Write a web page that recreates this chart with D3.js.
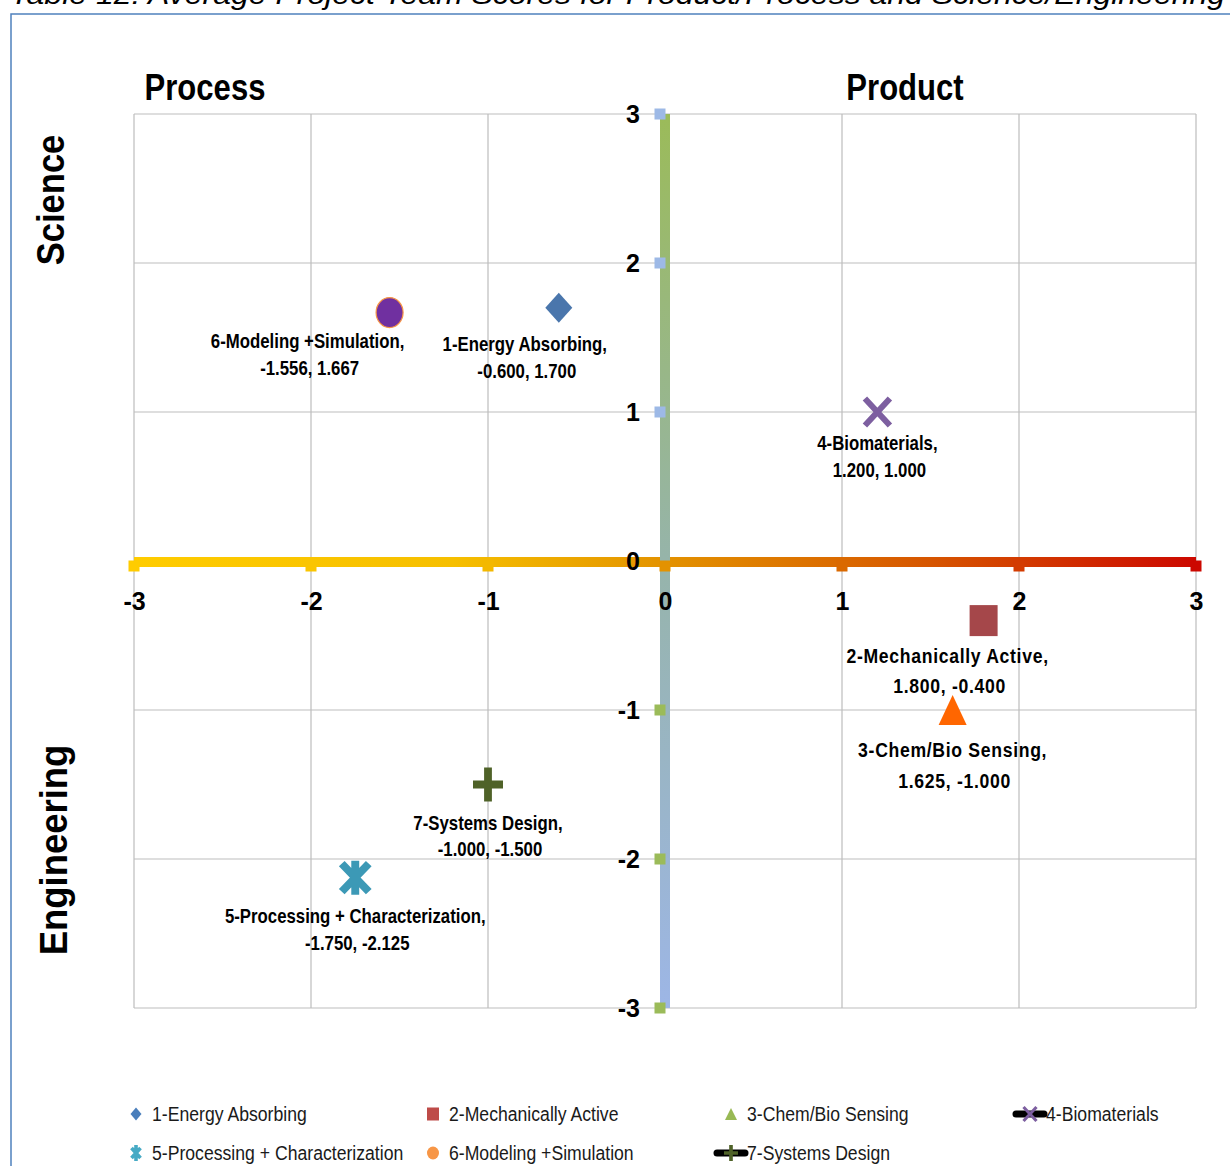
<!DOCTYPE html>
<html>
<head>
<meta charset="utf-8">
<script src="https://cdn.jsdelivr.net/npm/d3@7"></script>
<style>
    body { margin: 0; background: #ffffff; }
    svg { display: block; }
</style>
</head>
<body>
<svg id="chart" width="1230" height="1166"></svg>
<script>
// chart data
var teams = ["1-Energy Absorbing", "2-Mechanically Active", "3-Chem/Bio Sensing", "4-Biomaterials",
    "5-Processing + Characterization", "6-Modeling +Simulation", "7-Systems Design"];
var productScores = [-0.600, 1.800, 1.625, 1.200, -1.750, -1.556, -1.000]; // Process (-) / Product (+)
var scienceScores = [1.700, -0.400, -1.000, 1.000, -2.125, 1.667, -1.500]; // Engineering (-) / Science (+)
var axisTicks = [-3, -2, -1, 0, 1, 2, 3];

var titleText = "Table 12: Average Project Team Scores for Product/Process and Science/Engineering";
var quadrantHeaders = ["Process", "Product"];
var sideHeaders = ["Science", "Engineering"];

// styles
var sans = '"Liberation Sans", Arial, sans-serif';
var squeeze = 0.84; // no narrow font installed, so squeeze the text horizontally
var shapes = ["diamond", "square", "triangle", "x", "asterisk", "circle", "plus"];
var pointColors = ["#4A76AC", "#A5474A", "#FF6600", "#7D5FA0", "#3C99B6", "#7030A0", "#4F6228"];
var legendColors = ["#4A7EBB", "#BE4B48", "#98B954", "#7D5FA0", "#46AAC5", "#F79646", "#4F6228"];
var labelOffsets = [[-34, 36], [-36, 35], [0, 40], [0, 31], [0, 38], [-82, 28], [0, 38]];
var labelLineGap = [27, 30, 31, 27, 27, 27, 27];

var svg = d3.select("#chart");

var x = d3.scaleLinear().domain([-3, 3]).range([134, 1196]);
var y = d3.scaleLinear().domain([-3, 3]).range([1008, 114]);

var fmt = function (v) { return v.toFixed(3); };

/*====================================================================
       frame + title (title is cut at the top, as in the source)
    ==================================================================*/
svg.append("text")
    .attr("x", 10)
    .attr("y", 4)
    .attr("textLength", 1215)
    .attr("lengthAdjust", "spacingAndGlyphs")
    .attr("font-family", sans)
    .attr("font-style", "italic")
    .attr("font-size", 28)
    .attr("fill", "#000")
    .text(titleText);

svg.append("rect")
    .attr("x", 11)
    .attr("y", 14)
    .attr("width", 1300)
    .attr("height", 1300)
    .attr("fill", "none")
    .attr("stroke", "#4F81BD")
    .attr("stroke-width", 1.5);

/*====================================================================
       grid
    ==================================================================*/
var grid = svg.append("g");
grid.selectAll(".vgrid").data(axisTicks).enter().append("line")
    .attr("x1", function (d) { return x(d); })
    .attr("x2", function (d) { return x(d); })
    .attr("y1", y(3)).attr("y2", y(-3))
    .attr("stroke", "#BDBDBD").attr("stroke-width", 1.2);
grid.selectAll(".hgrid").data(axisTicks).enter().append("line")
    .attr("y1", function (d) { return y(d); })
    .attr("y2", function (d) { return y(d); })
    .attr("x1", x(-3)).attr("x2", x(3))
    .attr("stroke", "#BDBDBD").attr("stroke-width", 1.2);

/*====================================================================
       the two gradient axis lines
    ==================================================================*/
var defs = svg.append("defs");
var hStops = [[0, "#FFCC00"], [0.3, "#F6BF00"], [0.5, "#E39200"], [0.75, "#D65500"], [1, "#CC0800"]];
var vStops = [[0, "#9BBB59"], [0.5, "#96B4AA"], [1, "#9DB6E6"]];

var hGrad = defs.append("linearGradient").attr("id", "hgrad")
    .attr("gradientUnits", "userSpaceOnUse")
    .attr("x1", x(-3)).attr("x2", x(3)).attr("y1", 0).attr("y2", 0);
hGrad.selectAll("stop").data(hStops).enter().append("stop")
    .attr("offset", function (d) { return d[0]; })
    .attr("stop-color", function (d) { return d[1]; });

var vGrad = defs.append("linearGradient").attr("id", "vgrad")
    .attr("gradientUnits", "userSpaceOnUse")
    .attr("x1", 0).attr("x2", 0).attr("y1", y(3)).attr("y2", y(-3));
vGrad.selectAll("stop").data(vStops).enter().append("stop")
    .attr("offset", function (d) { return d[0]; })
    .attr("stop-color", function (d) { return d[1]; });

var hColor = d3.scaleLinear()
    .domain(hStops.map(function (d) { return -3 + d[0] * 6; }))
    .range(hStops.map(function (d) { return d[1]; }));

svg.append("line")
    .attr("x1", x(-3)).attr("x2", x(3))
    .attr("y1", y(0) + 1).attr("y2", y(0) + 1)
    .attr("stroke", "url(#hgrad)").attr("stroke-width", 10);

svg.append("line")
    .attr("x1", x(0)).attr("x2", x(0))
    .attr("y1", y(3)).attr("y2", y(-3))
    .attr("stroke", "url(#vgrad)").attr("stroke-width", 10);

svg.selectAll(".vmark").data(axisTicks.filter(function (d) { return d !== 0; })).enter().append("rect")
    .attr("x", x(0) - 5 - 5.5)
    .attr("y", function (d) { return y(d) - 5.5; })
    .attr("width", 11).attr("height", 11)
    .attr("fill", function (d) { return d > 0 ? "#9DB9E6" : "#9BBB59"; });

svg.selectAll(".hmark").data(axisTicks).enter().append("rect")
    .attr("x", function (d) { return x(d) - 5.5; })
    .attr("y", y(0) + 5 - 5.5)
    .attr("width", 11).attr("height", 11)
    .attr("fill", function (d) { return hColor(d); });

/*====================================================================
       axes (labels only)
    ==================================================================*/
var xAxis = svg.append("g")
    .attr("transform", "translate(0," + y(0) + ")")
    .call(d3.axisBottom(x).tickValues(axisTicks).tickSize(0).tickPadding(31)
        .tickFormat(function (d) { return String(d); }));
var yAxis = svg.append("g")
    .attr("transform", "translate(" + x(0) + ",0)")
    .call(d3.axisLeft(y).tickValues(axisTicks).tickSize(0).tickPadding(25)
        .tickFormat(function (d) { return String(d); }));

[xAxis, yAxis].forEach(function (ax) {
    ax.select(".domain").remove();
    ax.selectAll("text")
        .attr("font-family", sans)
        .attr("font-weight", "bold")
        .attr("font-size", 25)
        .attr("fill", "#000");
});

/*====================================================================
       headers
    ==================================================================*/
svg.selectAll(".qhead").data(quadrantHeaders).enter().append("text")
    .attr("transform", function (d, i) {
        return "translate(" + (i === 0 ? 205 : 905) + ",100) scale(" + squeeze + ",1)";
    })
    .attr("text-anchor", "middle")
    .attr("font-family", sans).attr("font-weight", "bold").attr("font-size", 37)
    .text(function (d) { return d; });

svg.selectAll(".shead").data(sideHeaders).enter().append("text")
    .attr("transform", function (d, i) {
        return (i === 0 ? "translate(64,200)" : "translate(67,850)") + " rotate(-90) scale(" + (i === 0 ? 0.91 : 0.96) + ",1)";
    })
    .attr("text-anchor", "middle")
    .attr("font-family", sans).attr("font-weight", "bold").attr("font-size", 38)
    .text(function (d) { return d; });

/*====================================================================
       markers
    ==================================================================*/
function drawMarker(g, shape, color, w, h, outline) {
    if (shape === "diamond") {
        g.append("path").attr("d", "M0," + (-h / 2) + "L" + (w / 2) + ",0L0," + (h / 2) + "L" + (-w / 2) + ",0Z")
            .attr("fill", color);
    } else if (shape === "square") {
        g.append("rect").attr("x", -w / 2).attr("y", -h / 2).attr("width", w).attr("height", h)
            .attr("fill", color);
    } else if (shape === "triangle") {
        g.append("path").attr("d", "M0," + (-h / 2) + "L" + (w / 2) + "," + (h / 2) + "L" + (-w / 2) + "," + (h / 2) + "Z")
            .attr("fill", color);
    } else if (shape === "circle") {
        g.append("ellipse").attr("rx", w / 2).attr("ry", h / 2)
            .attr("fill", color)
            .attr("stroke", outline ? "#F79646" : "none").attr("stroke-width", 1.2);
    } else if (shape === "x") {
        var p = d3.path();
        p.moveTo(-w / 2, -h / 2); p.lineTo(w / 2, h / 2);
        p.moveTo(w / 2, -h / 2); p.lineTo(-w / 2, h / 2);
        g.append("path").attr("d", p.toString()).attr("stroke", color).attr("stroke-width", w * 0.24);
    } else if (shape === "asterisk") {
        var q = d3.path();
        q.moveTo(-w / 2 + 3, -h / 2 + 3); q.lineTo(w / 2 - 3, h / 2 - 3);
        q.moveTo(w / 2 - 3, -h / 2 + 3); q.lineTo(-w / 2 + 3, h / 2 - 3);
        q.moveTo(0, -h / 2); q.lineTo(0, h / 2);
        g.append("path").attr("d", q.toString()).attr("stroke", color).attr("stroke-width", w * 0.24);
    } else if (shape === "plus") {
        var r = d3.path();
        r.moveTo(-w / 2, 0); r.lineTo(w / 2, 0);
        r.moveTo(0, -h / 2); r.lineTo(0, h / 2);
        g.append("path").attr("d", r.toString()).attr("stroke", color).attr("stroke-width", w * 0.26);
    }
}

var markerSize = { diamond: [27, 30], square: [28, 31], triangle: [28, 30], x: [25, 27],
    asterisk: [33, 34], circle: [27, 30], plus: [30, 34] };

var points = svg.selectAll(".point").data(teams).enter().append("g")
    .attr("class", "point")
    .attr("transform", function (d, i) { return "translate(" + x(productScores[i]) + "," + y(scienceScores[i]) + ")"; });

points.each(function (d, i) {
    var s = markerSize[shapes[i]];
    drawMarker(d3.select(this), shapes[i], pointColors[i], s[0], s[1], true);
});

/*====================================================================
       data labels
    ==================================================================*/
var labels = svg.selectAll(".plabel").data(teams).enter().append("text")
    .attr("class", "plabel")
    .attr("transform", function (d, i) {
        return "translate(" + (x(productScores[i]) + labelOffsets[i][0]) + "," +
            (y(scienceScores[i]) + labelOffsets[i][1]) + ") scale(" + squeeze + ",1)";
    })
    .attr("text-anchor", "middle")
    .attr("font-family", sans).attr("font-weight", "bold")
    .attr("font-size", function (d, i) { return (i === 1 || i === 2) ? 21 : 20; })
    .attr("letter-spacing", function (d, i) { return (i === 1 || i === 2) ? 0.8 : 0; })
    .attr("fill", "#000");

labels.append("tspan")
    .attr("x", 0)
    .attr("y", 0)
    .attr("dy", "0.35em")
    .text(function (d) { return d + ","; });

labels.append("tspan")
    .attr("x", 2 / squeeze)
    .attr("y", function (d, i) { return labelLineGap[i]; })
    .attr("dy", "0.35em")
    .text(function (d, i) { return fmt(productScores[i]) + ", " + fmt(scienceScores[i]); });

/*====================================================================
       legend
    ==================================================================*/
var legendCols = [136, 433, 731, 1030];
var legendRows = [1114, 1153];
var legendMarker = { diamond: [11, 13], square: [12, 13], triangle: [12, 12], x: [13, 14],
    asterisk: [15, 16], circle: [12, 13], plus: [14, 16] };

var legend = svg.selectAll(".legend").data(teams).enter().append("g")
    .attr("class", "legend")
    .attr("transform", function (d, i) {
        return "translate(" + legendCols[i % 4] + "," + legendRows[Math.floor(i / 4)] + ")";
    });

legend.each(function (d, i) {
    var g = d3.select(this);
    var shape = shapes[i];
    if (shape === "x" || shape === "plus") {
        g.append("line").attr("x1", -14).attr("x2", 14)
            .attr("stroke", "#000").attr("stroke-width", 7).attr("stroke-linecap", "round");
    }
    var small = legendMarker[shape];
    drawMarker(g, shape, legendColors[i], small[0], small[1], false);
    g.append("text")
        .attr("transform", "translate(16,0) scale(" + squeeze + ",1)")
        .attr("dy", "0.35em")
        .attr("font-family", sans)
        .attr("font-size", 21)
        .attr("fill", "#1a1a1a")
        .text(d);
});
</script>
</body>
</html>
